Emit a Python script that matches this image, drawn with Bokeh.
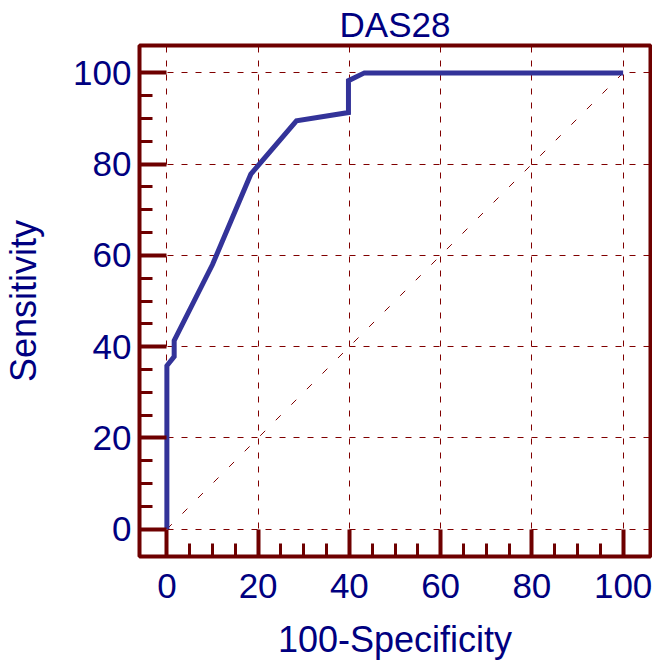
from bokeh.plotting import figure
from bokeh.models import Range1d, FixedTicker
from bokeh.embed import file_html
from bokeh.resources import INLINE

# ROC curve data (100-Specificity vs Sensitivity)
fpr = [0, 0, 1.6, 1.6, 10, 18.4, 28.4, 39.8, 39.8, 43.3, 100]
tpr = [0, 35.8, 37.8, 41.3, 58, 77.8, 89.5, 91.3, 98.3, 100, 100]
diag_x = [0, 100]
diag_y = [0, 100]
major_ticks = [0, 20, 40, 60, 80, 100]
minor_ticks = [v for v in range(5, 100, 5) if v % 20 != 0]

FRAME = "#6e0000"
GRID = "#800000"
NAVY = "#000080"
CURVE = "#333399"
FONT = "Liberation Sans"

p = figure(width=652, height=662, output_backend="svg", toolbar_location=None,
           x_range=Range1d(-6, 106), y_range=Range1d(-6, 106),
           title="DAS28",
           min_border_left=139, min_border_right=2, min_border_top=45, min_border_bottom=106)
p.background_fill_color = "white"
p.border_fill_color = "white"
p.outline_line_color = FRAME
p.outline_line_width = 4
p.outline_line_alpha = 1

p.title.align = "center"
p.title.vertical_align = "top"
p.title.text_font = FONT
p.title.text_font_size = "35px"
p.title.text_font_style = "normal"
p.title.text_color = NAVY
p.title.text_line_height = 0.7
p.title.standoff = 0

for ax in (p.xaxis[0], p.yaxis[0]):
    ax.ticker = FixedTicker(ticks=major_ticks, minor_ticks=minor_ticks)
    ax.axis_line_color = None
    ax.major_tick_in = 27
    ax.major_tick_out = 0
    ax.minor_tick_in = 13
    ax.minor_tick_out = 0
    ax.major_tick_line_color = FRAME
    ax.minor_tick_line_color = FRAME
    ax.major_tick_line_width = 4
    ax.minor_tick_line_width = 3
    ax.major_label_text_font = FONT
    ax.major_label_text_font_size = "35px"
    ax.major_label_text_color = NAVY
    ax.major_label_text_line_height = 1.0
    ax.axis_label_text_font = FONT
    ax.axis_label_text_font_size = "36px"
    ax.axis_label_text_color = NAVY
    ax.axis_label_text_font_style = "normal"
    ax.axis_label_text_line_height = 1.0

p.xaxis.axis_label = "100-Specificity"
p.yaxis.axis_label = "Sensitivity"
p.xaxis.major_label_standoff = 17
p.xaxis.axis_label_standoff = 18
p.yaxis.major_label_standoff = 8
p.yaxis.axis_label_standoff = 26

for g in (p.xgrid[0], p.ygrid[0]):
    g.grid_line_color = GRID
    g.grid_line_width = 1
    g.grid_line_dash = "6 8"

p.line(diag_x, diag_y, line_color=GRID, line_width=1, line_dash="7 15")
p.line(fpr, tpr, line_color=CURVE, line_width=5, line_join="miter")

open("out.html", "w").write(file_html(p, INLINE))
